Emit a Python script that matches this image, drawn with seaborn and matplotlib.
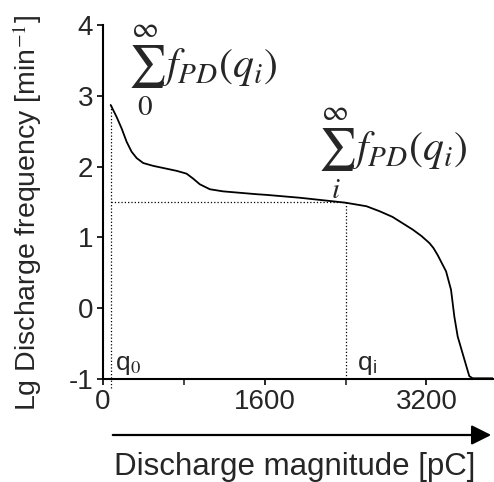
import matplotlib
matplotlib.use("Agg")
import matplotlib.pyplot as plt
from matplotlib.patches import FancyArrowPatch
import seaborn as sns
import pandas as pd

# curve: discharge magnitude [pC] vs lg frequency
magnitude = [76, 135, 184, 234, 283, 333, 398, 497, 629, 728, 827, 892, 958,
             1057, 1188, 1353, 1518, 1620, 1946, 2272, 2400, 2607, 2736, 2864,
             3065, 3151, 3230, 3270, 3312, 3395, 3444, 3477, 3510, 3559, 3598,
             3625, 3658, 3862]
lg_freq = [2.87, 2.70, 2.54, 2.35, 2.21, 2.12, 2.05, 2.01, 1.97, 1.94, 1.90,
           1.83, 1.75, 1.68, 1.65, 1.63, 1.61, 1.60, 1.56, 1.51, 1.49, 1.44,
           1.37, 1.29, 1.11, 1.02, 0.92, 0.85, 0.75, 0.52, 0.26, -0.12, -0.40,
           -0.64, -0.83, -0.96, -0.99, -0.99]

q0 = 76
qi = 2400
level_qi = 1.5

y_ticks = [-1, 0, 1, 2, 3, 4]
x_ticks = [0, 1600, 3200]

sns.set_style("ticks")
plt.rcParams["font.family"] = ["Liberation Sans", "DejaVu Sans"]
plt.rcParams["mathtext.fontset"] = "stix"
plt.rcParams["axes.unicode_minus"] = False

df = pd.DataFrame({"q": magnitude, "lg": lg_freq})

fig = plt.figure(figsize=(4.94, 4.82), dpi=100)
ax = fig.add_axes([0.2085, 0.2137, 0.79, 0.7345])

sns.lineplot(data=df, x="q", y="lg", color="black", linewidth=1.3, ax=ax)

# dotted guide lines
ax.plot([q0, q0], [-1.13, 2.87], color="black", linestyle=":", linewidth=0.9,
        clip_on=False)
ax.plot([qi, qi], [-1, level_qi], color="black", linestyle=":", linewidth=0.9)
ax.plot([q0, qi], [level_qi, level_qi], color="black", linestyle=":",
        linewidth=0.9)

ax.set_xlim(0, 3862)
ax.set_ylim(-1, 4)
ax.set_xticks(x_ticks)
ax.set_xticks([800, 2400], minor=True)
ax.set_yticks(y_ticks)
ax.tick_params(axis="both", labelsize=20, length=4, width=1.2, color="black",
               direction="out", pad=3)
ax.tick_params(axis="x", which="minor", length=4, width=1.2)
for s in ["top", "right"]:
    ax.spines[s].set_visible(False)
for s in ["left", "bottom"]:
    ax.spines[s].set_linewidth(1.5)
    ax.spines[s].set_color("black")

ax.set_ylabel("Lg Discharge frequency [min$^{-1}$]", fontsize=20.5)
ax.yaxis.set_label_coords(-0.15, 0.469)
ax.set_xlabel("Discharge magnitude [pC]", fontsize=22.5, va="top")
ax.xaxis.set_label_coords(0.491, -0.205)

# sums
ax.text(990, 3.35, r"$\sum_{0}^{\infty}\,f_{PD}(q_i)$", fontsize=30,
        ha="center", va="center")
ax.text(2864, 2.19, r"$\sum_{i}^{\infty}\,f_{PD}(q_i)$", fontsize=30,
        ha="center", va="center")

ax.text(q0 + 45, -0.8, "q$_0$", fontsize=19, ha="left", va="center")
ax.text(qi + 110, -0.8, "q$_\\mathregular{i}$", fontsize=19, ha="left",
        va="center")

arrow = FancyArrowPatch((110 / 494, 1 - 435 / 482), (494 / 494, 1 - 435 / 482),
                        transform=fig.transFigure, arrowstyle="-|>",
                        mutation_scale=30, color="black", linewidth=1.6)
fig.patches.append(arrow)

fig.savefig("out.png", dpi=100)
